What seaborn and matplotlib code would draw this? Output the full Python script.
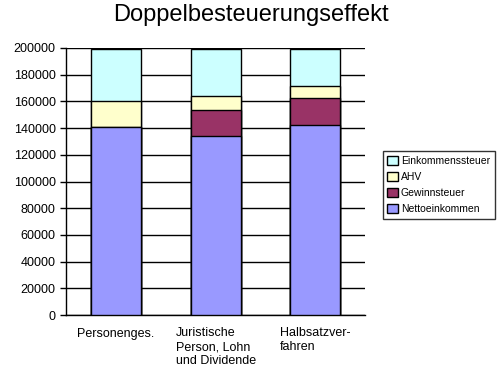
import numpy as np
import pandas as pd
import matplotlib
matplotlib.use("Agg")
import matplotlib.pyplot as plt
import seaborn as sns

categories = ["Personenges.", "Juristische\nPerson, Lohn\nund Dividende", "Halbsatzver-\nfahren"]
nettoeinkommen = [141000, 133800, 142300]
gewinnsteuer = [0, 20000, 20000]
ahv = [19000, 10000, 9200]
einkommenssteuer = [39500, 35700, 28000]

series = ["Nettoeinkommen", "Gewinnsteuer", "AHV", "Einkommenssteuer"]
colors = {"Nettoeinkommen": "#9999FF", "Gewinnsteuer": "#993366",
          "AHV": "#FFFFCC", "Einkommenssteuer": "#CCFFFF"}

df = pd.DataFrame({"Kategorie": categories,
                   "Nettoeinkommen": nettoeinkommen,
                   "Gewinnsteuer": gewinnsteuer,
                   "AHV": ahv,
                   "Einkommenssteuer": einkommenssteuer})
cum = df[series].cumsum(axis=1)

sns.set_style("white")
plt.rcParams["font.family"] = ["Liberation Sans", "DejaVu Sans"]
plt.rcParams["text.color"] = "black"
plt.rcParams["xtick.color"] = "black"
plt.rcParams["ytick.color"] = "black"

fig = plt.figure(figsize=(5.01, 3.75), dpi=100)
ax = fig.add_axes([0.132, 0.16, 0.597, 0.712])

# draw stacked bars from the top down so each layer covers the one above
for s in reversed(series):
    sns.barplot(x=df["Kategorie"], y=cum[s], color=colors[s], edgecolor="black",
                linewidth=1, width=0.5, saturation=1, label=s, ax=ax, zorder=3)

ax.set_ylim(0, 200000)
ax.set_xlim(-0.5, 2.5)
ax.set_yticks(np.arange(0, 200001, 20000))
ax.yaxis.grid(True, color="black", linewidth=1)
ax.set_axisbelow(True)
ax.set_xlabel("")
ax.set_ylabel("")

for sp in ["top", "right"]:
    ax.spines[sp].set_visible(False)
for sp in ["left", "bottom"]:
    ax.spines[sp].set_color("black")
    ax.spines[sp].set_linewidth(1)

ax.set_xticks([0, 1, 2])
ax.set_xticklabels(categories, ha="center", multialignment="left", fontsize=9)
ax.set_xticks([-0.5, 0.5, 1.5, 2.5], minor=True)
ax.tick_params(axis="x", which="major", length=0, pad=9)
ax.tick_params(axis="x", which="minor", length=4, width=1, color="black", direction="out")
ax.tick_params(axis="y", length=4, width=1, color="black", direction="out", labelsize=9, left=True)

fig.suptitle("Doppelbesteuerungseffekt", fontsize=17, y=0.99, color="black")

leg = ax.legend(loc="upper left", bbox_to_anchor=(0.764, 0.597), bbox_transform=fig.transFigure,
                fontsize=7.5, frameon=True, fancybox=False, handlelength=1.0, handleheight=1.0,
                handletextpad=0.3, labelspacing=0.55, borderpad=0.45, borderaxespad=0)
leg.get_frame().set_edgecolor("black")
leg.get_frame().set_linewidth(1)

fig.savefig("out.png", dpi=100)
